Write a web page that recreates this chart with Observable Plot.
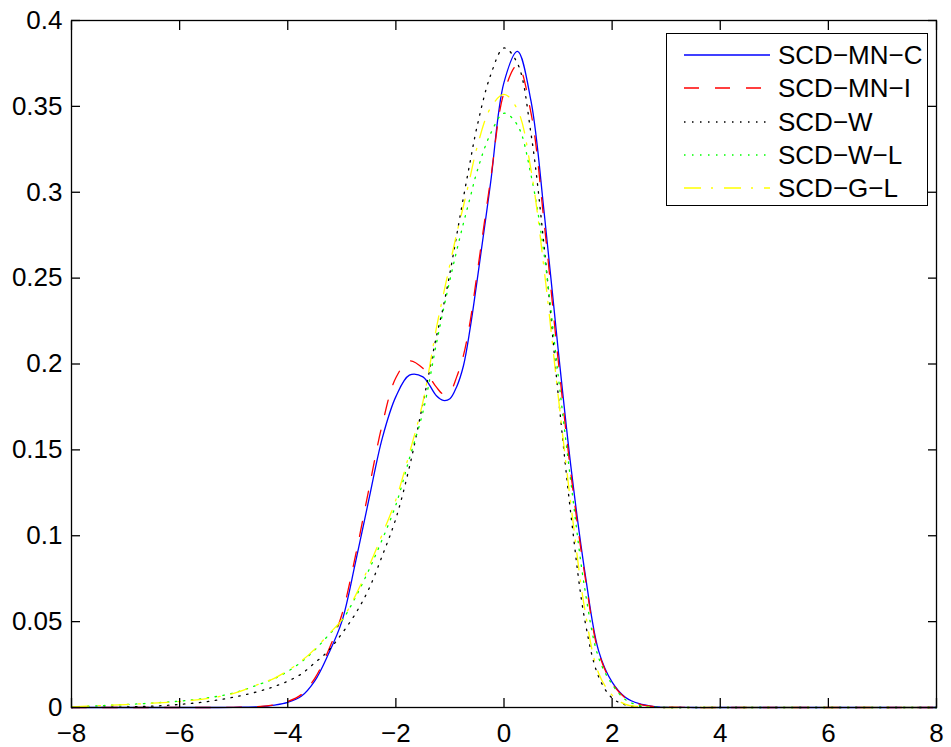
<!DOCTYPE html>
<html><head><meta charset="utf-8">
<script src="https://cdn.jsdelivr.net/npm/d3@7"></script>
<script src="https://cdn.jsdelivr.net/npm/@observablehq/plot@0.6"></script>
<style>
body{margin:0;background:#fff;font-family:"Liberation Sans",Arial,Helvetica,sans-serif;}
#wrap{position:relative;width:951px;height:747px;overflow:hidden;}
#legend{position:absolute;left:666px;top:33px;width:260px;height:171px;border:1.4px solid #000;background:#fff;}
.row{position:absolute;left:0;width:260px;height:34px;}
.row svg{position:absolute;left:0;top:0;}
.row span{position:absolute;left:111px;top:0;line-height:34px;font-size:26px;color:#000;white-space:nowrap;}
</style></head>
<body><div id="wrap"><div id="chart"></div><div id="legend"></div></div>
<script>
// shared x grid
const xs = [-8,-7.5,-7,-6.5,-6,-5.5,-5,-4.5,-4.25,-4,-3.75,-3.5,-3.25,-3,-2.75,-2.5,-2.25,-2,-1.75,-1.5,-1.25,-1.125,-1,-0.875,-0.75,-0.625,-0.5,-0.25,0,0.25,0.5,0.75,1,1.25,1.5,1.75,2,2.25,2.5,2.75,3,3.5,4,5,6,7,8];

const scdMNC = [0,0,0,0,0,0,0.0001,0.0005,0.0014,0.003,0.0065,0.0155,0.031,0.050,0.084,0.121,0.157,0.181,0.1935,0.1925,0.1815,0.1788,0.1798,0.1868,0.199,0.221,0.248,0.305,0.364,0.382,0.353,0.286,0.209,0.137,0.078,0.033,0.0148,0.0058,0.0022,0.0007,0.0002,0,0,0,0,0,0];
const scdMNI = [0,0,0,0,0,0,0.0001,0.0006,0.0016,0.0035,0.0075,0.017,0.033,0.054,0.088,0.127,0.165,0.192,0.2018,0.1975,0.1865,0.1825,0.1838,0.1925,0.205,0.225,0.252,0.307,0.358,0.374,0.346,0.280,0.203,0.133,0.076,0.032,0.0142,0.0055,0.002,0.0006,0.0002,0,0,0,0,0,0];
const scdW   = [0,0.0001,0.0003,0.0008,0.0018,0.0034,0.006,0.0097,0.0122,0.0153,0.0195,0.026,0.033,0.043,0.0545,0.069,0.0885,0.110,0.140,0.177,0.216,0.233,0.253,0.275,0.297,0.318,0.338,0.368,0.384,0.375,0.334,0.266,0.183,0.109,0.050,0.018,0.0055,0.0015,0.0004,0.0001,0,0,0,0,0,0,0];
const scdWL  = [0.0003,0.001,0.0017,0.0026,0.0037,0.0055,0.0085,0.0138,0.0168,0.021,0.0265,0.0335,0.042,0.0505,0.064,0.080,0.098,0.118,0.145,0.172,0.212,0.231,0.249,0.266,0.282,0.297,0.312,0.334,0.346,0.339,0.310,0.262,0.194,0.128,0.068,0.029,0.0135,0.0045,0.0012,0.0003,0,0,0,0,0,0,0];
const scdGL  = [0.0003,0.0011,0.0017,0.0025,0.0035,0.0052,0.0082,0.014,0.017,0.0215,0.027,0.034,0.0425,0.051,0.065,0.082,0.101,0.121,0.148,0.178,0.221,0.240,0.258,0.276,0.292,0.309,0.326,0.349,0.357,0.348,0.313,0.253,0.182,0.115,0.056,0.020,0.0072,0.0018,0.0005,0.0001,0,0,0,0,0,0,0];

const seriesNames = ["SCD\u2212MN\u2212C","SCD\u2212MN\u2212I","SCD\u2212W","SCD\u2212W\u2212L","SCD\u2212G\u2212L"];
const xTicks = [-8,-6,-4,-2,0,2,4,6,8];
const yTicks = [0,0.05,0.1,0.15,0.2,0.25,0.3,0.35,0.4];

const seriesValues = [scdMNC, scdMNI, scdW, scdWL, scdGL];
const colors = ["#0000ff","#ff0000","#000000","#00ff00","#ffff00"];
const dashes = [null,"15,16","1.5,6.5","1.5,6.5","17,10,2,11"];

const lineMarks = seriesValues.map((vals,k) =>
  Plot.line(xs, {x: d => d, y: (d,i) => vals[i], stroke: colors[k], strokeWidth: 1.3,
    strokeDasharray: dashes[k], curve: "catmull-rom"}));

const chart = Plot.plot({
  width: 951, height: 747,
  marginLeft: 71, marginRight: 15, marginTop: 20, marginBottom: 40,
  x: {domain: [-8, 8]},
  y: {domain: [0, 0.4]},
  style: {fontFamily: "'Liberation Sans', Arial, sans-serif", fontSize: "26px", color: "#000", background: "#fff"},
  marks: [
    ...lineMarks,
    Plot.frame({stroke: "#000", strokeWidth: 1.3}),
    Plot.axisX(xTicks, {anchor: "bottom", tickSize: -9, tickPadding: 25, fontSize: 26, label: null, strokeWidth: 1.3,
      tickFormat: d => (d < 0 ? "\u2212" + Math.abs(d) : String(d))}),
    Plot.axisX(xTicks, {anchor: "top", tickSize: -9, label: null, strokeWidth: 1.3, tickFormat: () => ""}),
    Plot.axisY(yTicks, {anchor: "left", tickSize: -9, tickPadding: 18, fontSize: 26, label: null, strokeWidth: 1.3,
      tickFormat: d => String(d)}),
    Plot.axisY(yTicks, {anchor: "right", tickSize: -9, label: null, strokeWidth: 1.3, tickFormat: () => ""})
  ]
});
document.getElementById("chart").appendChild(chart);

// legend
const legend = document.getElementById("legend");
seriesNames.forEach((name, k) => {
  const row = document.createElement("div");
  row.className = "row";
  row.style.top = (4 + k * 33.3) + "px";
  const ns = "http://www.w3.org/2000/svg";
  const svg = document.createElementNS(ns, "svg");
  svg.setAttribute("width", 110); svg.setAttribute("height", 34);
  const ln = document.createElementNS(ns, "line");
  ln.setAttribute("x1", 17); ln.setAttribute("x2", 103);
  ln.setAttribute("y1", 17); ln.setAttribute("y2", 17);
  ln.setAttribute("stroke", colors[k]); ln.setAttribute("stroke-width", 1.3);
  if (dashes[k]) ln.setAttribute("stroke-dasharray", dashes[k]);
  svg.appendChild(ln);
  row.appendChild(svg);
  const sp = document.createElement("span");
  sp.textContent = name;
  row.appendChild(sp);
  legend.appendChild(row);
});
</script></body></html>
